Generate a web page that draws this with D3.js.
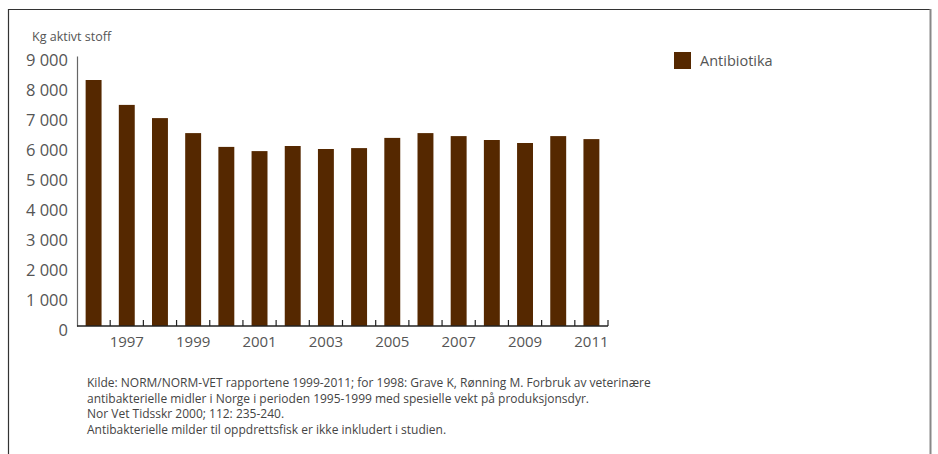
<!DOCTYPE html>
<html>
<head>
<meta charset="utf-8">
<script src="https://cdn.jsdelivr.net/npm/d3@7"></script>
<style>
  html, body { margin: 0; padding: 0; background: #fff; }
  svg { display: block; font-family: "Open Sans", "Noto Sans", sans-serif; }
</style>
</head>
<body>
<svg id="chart" width="938" height="454"></svg>
<script>
// Antibiotic use, kg active substance per year
const years = [1996, 1997, 1998, 1999, 2000, 2001, 2002, 2003, 2004, 2005, 2006, 2007, 2008, 2009, 2010, 2011];
const antibiotika = [8200, 7370, 6930, 6430, 5970, 5830, 6000, 5900, 5930, 6270, 6430, 6330, 6200, 6100, 6330, 6230];
const yTicks = [0, 1000, 2000, 3000, 4000, 5000, 6000, 7000, 8000, 9000];
const xLabelYears = [1997, 1999, 2001, 2003, 2005, 2007, 2009, 2011];
const seriesName = "Antibiotika";
const yTitle = "Kg aktivt stoff";
const notes = [
  "Kilde: NORM/NORM-VET rapportene 1999-2011; for 1998: Grave K, Rønning M. Forbruk av veterinære",
  "antibakterielle midler i Norge i perioden 1995-1999 med spesielle vekt på produksjonsdyr.",
  "Nor Vet Tidsskr 2000; 112: 235-240.",
  "Antibakterielle milder til oppdrettsfisk er ikke inkludert i studien."
];

const barColor = "#552800";
const svg = d3.select("#chart");

// outer frame (top, left, right)
svg.append("line").attr("x1", 8.5).attr("x2", 931).attr("y1", 9.5).attr("y2", 9.5)
  .attr("stroke", "#333").attr("stroke-width", 1.2);
svg.append("line").attr("x1", 8.5).attr("x2", 8.5).attr("y1", 9).attr("y2", 454)
  .attr("stroke", "#333").attr("stroke-width", 1.2);
svg.append("line").attr("x1", 930.5).attr("x2", 930.5).attr("y1", 9).attr("y2", 454)
  .attr("stroke", "#888").attr("stroke-width", 2);

const x = d3.scaleBand().domain(years).range([77, 608]).padding(0);
const y = d3.scaleLinear().domain([0, 9000]).range([326, 56]);
const barW = x.bandwidth() * 0.48;

// bars
svg.append("g").selectAll("rect").data(years).join("rect")
  .attr("x", d => x(d) + (x.bandwidth() - barW) / 2)
  .attr("width", barW)
  .attr("y", (d, i) => y(antibiotika[i]))
  .attr("height", (d, i) => y(0) - y(antibiotika[i]))
  .attr("fill", barColor);

// y axis
const yAxis = svg.append("g").attr("transform", "translate(77,0)")
  .call(d3.axisLeft(y).tickValues(yTicks).tickSize(0).tickPadding(9)
    .tickFormat(d => d === 0 ? "0" : d3.format(",")(d).replace(/,/g, " ")));
yAxis.select(".domain").attr("stroke", "#666").attr("stroke-width", 1.2);
yAxis.selectAll("text").attr("font-size", 16.5).attr("fill", "#555")
  .attr("dy", "0.68em").attr("font-family", "Open Sans").attr("y", -2);

// x axis baseline with upward ticks at band boundaries
svg.append("line").attr("x1", 77).attr("x2", 608).attr("y1", y(0)).attr("y2", y(0))
  .attr("stroke", "#222").attr("stroke-width", 1.4);
svg.append("g").selectAll("line").data(years).join("line")
  .attr("x1", d => x(d) + x.bandwidth()).attr("x2", d => x(d) + x.bandwidth())
  .attr("y1", y(0)).attr("y2", y(0) - 6)
  .attr("stroke", "#222").attr("stroke-width", 1.2);

const xAxis = svg.append("g").attr("transform", `translate(0,${y(0)})`)
  .call(d3.axisBottom(x).tickValues(xLabelYears).tickSize(0).tickPadding(10));
xAxis.select(".domain").remove();
xAxis.selectAll("text").attr("font-size", 15).attr("fill", "#555").attr("font-family", "Open Sans");

// y title
svg.append("text").attr("x", 32).attr("y", 41).text(yTitle)
  .attr("font-size", 12.5).attr("fill", "#555");

// legend
svg.append("rect").attr("x", 674).attr("y", 52).attr("width", 17).attr("height", 17).attr("fill", barColor);
svg.append("text").attr("x", 700).attr("y", 66).text(seriesName)
  .attr("font-size", 14.5).attr("fill", "#555");

// source notes
svg.append("g").selectAll("text").data(notes).join("text")
  .attr("x", 87).attr("y", (d, i) => 387 + i * 15.5)
  .text(d => d).attr("font-size", 12).attr("fill", "#444");
</script>
</body>
</html>
